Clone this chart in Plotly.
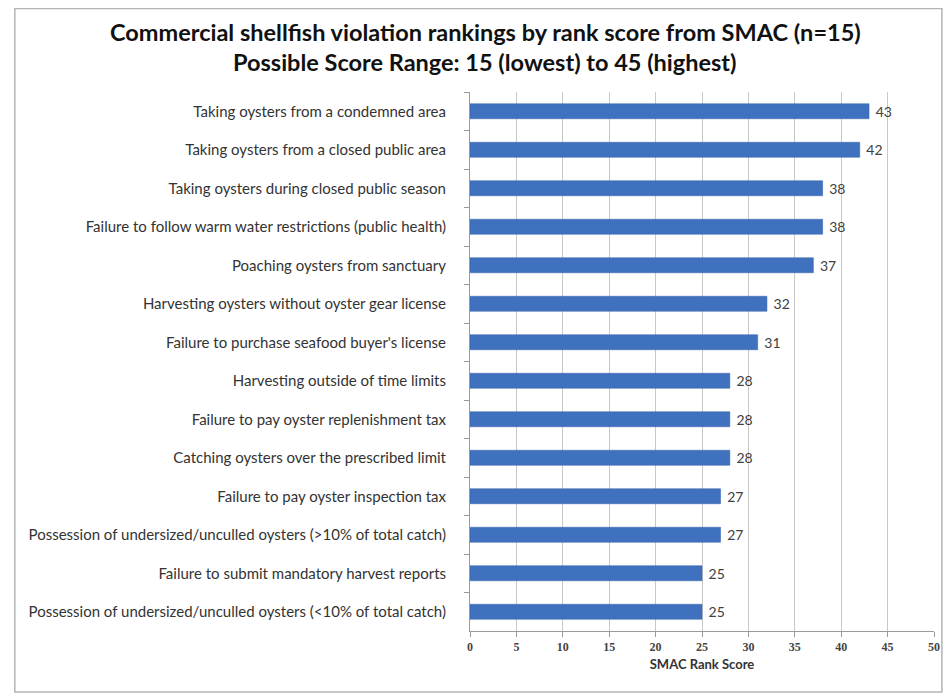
import plotly.graph_objects as go

violations = [
    "Taking oysters from a condemned area",
    "Taking oysters from a closed public area",
    "Taking oysters during closed public season",
    "Failure to follow warm water restrictions (public health)",
    "Poaching oysters from sanctuary",
    "Harvesting oysters without oyster gear license",
    "Failure to purchase seafood buyer's license",
    "Harvesting outside of time limits",
    "Failure to pay oyster replenishment tax",
    "Catching oysters over the prescribed limit",
    "Failure to pay oyster inspection tax",
    "Possession of undersized/unculled oysters (>10% of total catch)",
    "Failure to submit mandatory harvest reports",
    "Possession of undersized/unculled oysters (<10% of total catch)",
]
scores = [43, 42, 38, 38, 37, 32, 31, 28, 28, 28, 27, 27, 25, 25]
x_ticks = [0, 5, 10, 15, 20, 25, 30, 35, 40, 45, 50]

title_1 = "Commercial shellfish violation rankings by rank score from SMAC (n=15)"
title_2 = "Possible Score Range: 15 (lowest) to 45 (highest)"

fig = go.Figure()
fig.add_trace(
    go.Bar(
        x=scores,
        y=violations,
        orientation="h",
        marker_color="#3F71BF",
        marker_line_color="#3563AD",
        marker_line_width=0.5,
        text=scores,
        texttemplate=" %{x}",
        textposition="outside",
        constraintext="none",
        textfont=dict(family="Lato", size=14, color="#404040"),
        cliponaxis=False,
    )
)

# page body has an 8px margin, so the figure is a bit smaller than the window
fig.update_layout(
    width=943,
    height=687,
    margin=dict(l=462, r=11, t=84, b=64),
    plot_bgcolor="white",
    paper_bgcolor="white",
    showlegend=False,
    bargap=0.61,
    font=dict(family="Lato", color="#333"),
)

fig.add_annotation(text="<b>" + title_1 + "</b>", xref="paper", yref="paper",
                   x=0.033, y=1.111, xanchor="center", yanchor="middle", showarrow=False,
                   font=dict(family="Lato", size=23.5, color="#111"))
fig.add_annotation(text="<b>" + title_2 + "</b>", xref="paper", yref="paper",
                   x=0.033, y=1.056, xanchor="center", yanchor="middle", showarrow=False,
                   font=dict(family="Lato", size=23.5, color="#111"))

fig.update_xaxes(
    range=[0, 50],
    tickvals=x_ticks,
    showgrid=True,
    gridcolor="#c8c8c8",
    gridwidth=1,
    showline=True,
    linecolor="#9a9a9a",
    ticks="outside",
    ticklen=5,
    tickcolor="#9a9a9a",
    tickfont=dict(family="Liberation Serif", size=12, color="#444", weight="bold"),
    title=dict(text="<b>SMAC Rank Score</b>", font=dict(family="Lato", size=13, color="#333"), standoff=6),
    zeroline=False,
)
fig.update_yaxes(
    autorange="reversed",
    showline=True,
    linecolor="#9a9a9a",
    ticks="outside",
    ticklen=5,
    tickcolor="#9a9a9a",
    tickson="boundaries",
    ticklabelstandoff=20,
    tickfont=dict(family="Lato", size=15, color="#333"),
)

# chart border
fig.add_shape(
    type="rect",
    xref="paper",
    yref="paper",
    x0=-0.981,
    x1=1.017,
    y0=-0.113,
    y1=1.155,
    line=dict(color="#b5b5b5", width=1.5),
    fillcolor="rgba(0,0,0,0)",
    layer="below",
)

fig.write_html("out.html")
